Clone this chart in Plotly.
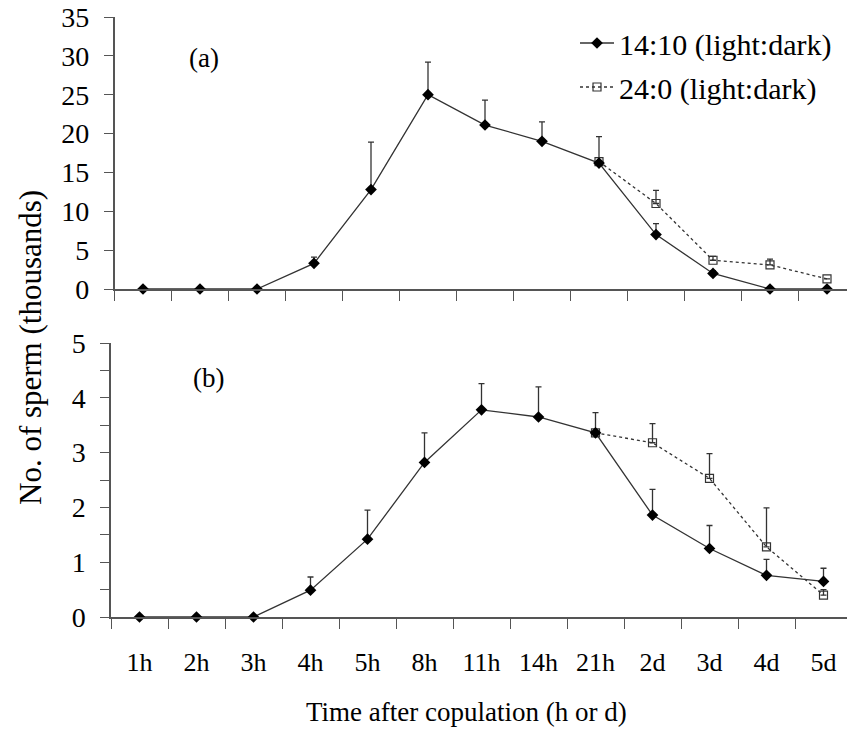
import plotly.graph_objects as go

categories = ["1h", "2h", "3h", "4h", "5h", "8h", "11h", "14h", "21h", "2d", "3d", "4d", "5d"]

# Panel (a) values, thousands
a_1410 = [0, 0, 0, 3.3, 12.8, 25.0, 21.1, 19.0, 16.2, 7.0, 2.0, 0, 0]
a_1410_err = [0, 0, 0, 0.8, 6.1, 4.2, 3.2, 2.5, 3.4, 1.4, 0.35, 0, 0]
a_240 = [None, None, None, None, None, None, None, None, 16.4, 11.0, 3.7, 3.1, 1.3]
a_240_err = [0, 0, 0, 0, 0, 0, 0, 0, 0, 1.7, 0.5, 0.75, 0]

# Panel (b) values, thousands
b_1410 = [0, 0, 0, 0.49, 1.42, 2.82, 3.78, 3.65, 3.36, 1.86, 1.25, 0.76, 0.65]
b_1410_err = [0, 0, 0, 0.24, 0.53, 0.54, 0.48, 0.55, 0.37, 0.47, 0.42, 0.29, 0.24]
b_240 = [None, None, None, None, None, None, None, None, 3.36, 3.18, 2.53, 1.28, 0.40]
b_240_err = [0, 0, 0, 0, 0, 0, 0, 0, 0, 0.35, 0.45, 0.71, 0.10]

a_ticks = [0, 5, 10, 15, 20, 25, 30, 35]
b_tickvals = [0, 0.5, 1, 1.5, 2, 2.5, 3, 3.5, 4, 4.5, 5]
b_ticktext = ["0", "", "1", "", "2", "", "3", "", "4", "", "5"]

FONT = "Liberation Serif, Times New Roman, serif"
LINEC = "#333333"
AXC = "#555555"

fig = go.Figure()

def add_pair(v1410, e1410, v240, e240, xa, ya, show):
    fig.add_trace(go.Scatter(
        x=categories, y=v240, xaxis=xa, yaxis=ya, mode="lines+markers",
        name="24:0 (light:dark)", legendgroup="g2", legendrank=2, showlegend=show,
        line=dict(color=LINEC, width=1.3, dash="dot"),
        marker=dict(symbol="square-open", size=8, color=LINEC, line=dict(width=1.2)),
        error_y=dict(type="data", symmetric=False, array=e240,
                     arrayminus=[0] * len(e240), color=LINEC, thickness=1.3, width=3),
        cliponaxis=False, connectgaps=False))
    fig.add_trace(go.Scatter(
        x=categories, y=v1410, xaxis=xa, yaxis=ya, mode="lines+markers",
        name="14:10 (light:dark)", legendgroup="g1", legendrank=1, showlegend=show,
        line=dict(color=LINEC, width=1.3),
        marker=dict(symbol="diamond", size=9, color="#000000"),
        error_y=dict(type="data", symmetric=False, array=e1410,
                     arrayminus=[0] * len(e1410), color=LINEC, thickness=1.3, width=3),
        cliponaxis=False))

add_pair(a_1410, a_1410_err, a_240, a_240_err, "x", "y", True)
add_pair(b_1410, b_1410_err, b_240, b_240_err, "x2", "y2", False)

W, H = 847, 731
ml, mr, mt, mb = 111, 0, 17, 114
pw = W - ml - mr
ph = H - mt - mb

top_shift = 3.5
x_common = dict(type="category", showgrid=False, zeroline=False, showline=True,
                linecolor=AXC, linewidth=1.5, ticks="outside", ticklen=10,
                tickwidth=1.3, tickcolor=AXC, tickson="boundaries")
y_common = dict(showgrid=False, zeroline=False, showline=True, linecolor=AXC,
                linewidth=1.5, ticks="outside", ticklen=9, tickwidth=1.3,
                tickcolor=AXC, tickfont=dict(family=FONT, size=28, color="#000"))

def ann(text, px, py, size, angle=0):
    return dict(text=text, x=(px - ml) / pw, y=(617 - py) / ph, xref="paper", yref="paper",
                xanchor="center", yanchor="middle", showarrow=False, textangle=angle,
                font=dict(family=FONT, size=size, color="#000"))

fig.update_layout(
    width=W, height=H,
    margin=dict(l=ml, r=mr, t=mt, b=mb),
    paper_bgcolor="white", plot_bgcolor="white",
    font=dict(family=FONT, color="#000"),
    xaxis=dict(**x_common, domain=[top_shift / pw, 1], anchor="y",
               range=[-0.5, -0.5 + (pw - top_shift) / 57.0], showticklabels=False),
    yaxis=dict(**y_common, domain=[(617 - 289) / ph, 1], anchor="x",
               range=[0, 35], tickvals=a_ticks, ticklabelstandoff=9),
    xaxis2=dict(**x_common, domain=[0, 1], anchor="y2",
                range=[-0.5, -0.5 + pw / 57.0],
                tickfont=dict(family=FONT, size=26, color="#000"),
                ticklabelstandoff=21),
    yaxis2=dict(**y_common, domain=[0, (617 - 343) / ph], anchor="x2",
                range=[0, 5], tickvals=b_tickvals, ticktext=b_ticktext,
                ticklabelstandoff=9),
    legend=dict(x=(575 - ml) / pw, y=1.0, xanchor="left", yanchor="top",
                font=dict(family=FONT, size=30, color="#000"),
                traceorder="grouped", tracegroupgap=2, itemwidth=34,
                bgcolor="rgba(0,0,0,0)"),
    annotations=[
        ann("(a)", 204, 58, 27),
        ann("(b)", 208, 378, 27),
        ann("No. of sperm (thousands)", 30, 348, 31, -90),
        ann("Time after copulation (h or d)", 466, 712, 27),
    ],
)

fig.write_html("out.html")
